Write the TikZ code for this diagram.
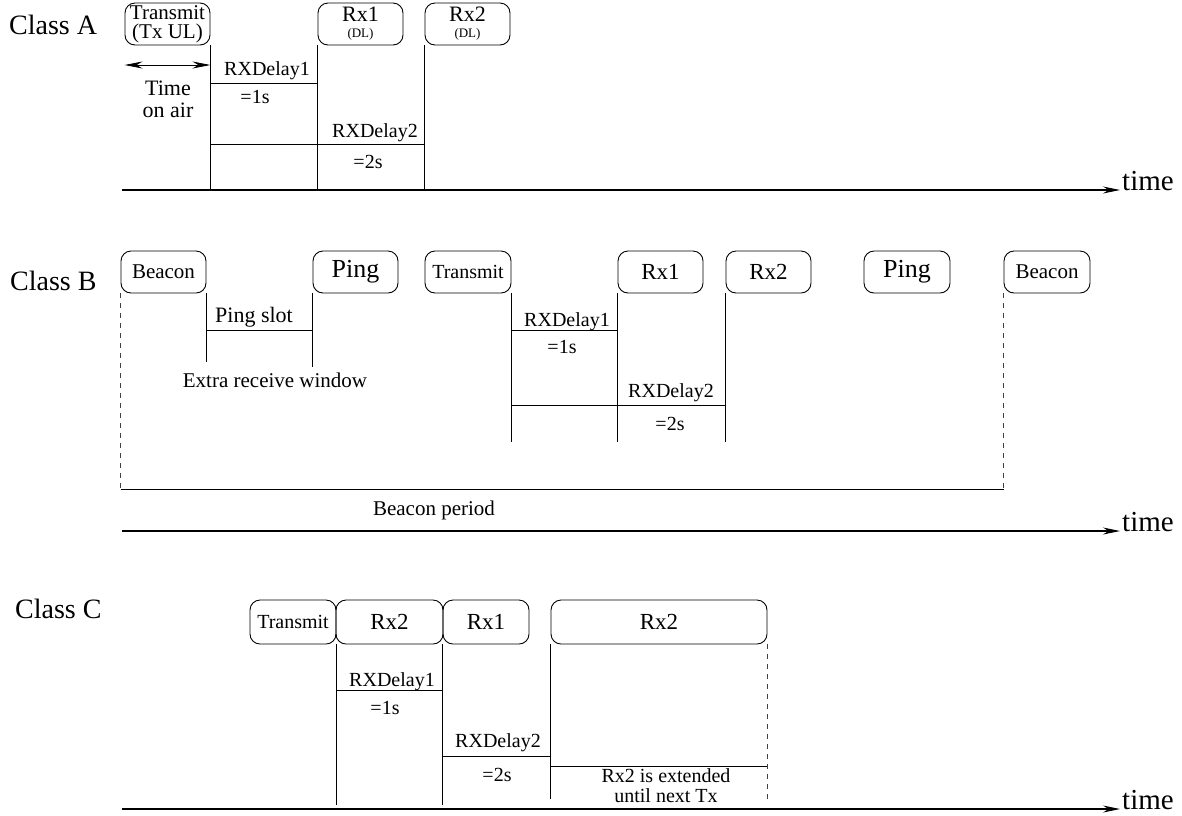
\documentclass[tikz,border=0pt]{standalone}
\usepackage{fontspec}
\setmainfont{Liberation Serif}
\usetikzlibrary{arrows.meta,calc}
\newcommand{\myfs}[1]{\fontsize{#1}{#1}\selectfont}
\begin{document}
\begin{tikzpicture}[x=1pt,y=-1pt,
  box/.style={draw, rounded corners=10pt, inner sep=0pt, minimum height=42pt, line width=0.9pt},
  ln/.style={line width=0.9pt},
  dsh/.style={line width=0.9pt, dash pattern=on 5pt off 5pt, black!75},
  tl/.style={line width=1.1pt, -{Stealth[length=17pt,width=7pt]}},
  lbl/.style={anchor=base, inner sep=0pt, font=\myfs{20}},
  cls/.style={anchor=base west, inner sep=0pt, font=\myfs{28}},
  tm/.style={anchor=base west, inner sep=0pt, font=\myfs{29}},
  dl/.style={inner sep=0pt, align=center, font=\fontsize{22}{12}\selectfont},
]
\useasboundingbox (0,0) rectangle (1182,815);

% ---------------- Class A ----------------
\node[cls] (clA) at (9,34) {Class A};
\node[box, minimum width=85pt] (tA) at (167.5,24) {};
\node[box, minimum width=85pt] (r1A) at (360.5,24) {};
\node[box, minimum width=85pt] (r2A) at (467.5,24) {};
\node[inner sep=0pt, align=center, font=\fontsize{21}{19}\selectfont] (tAt) at (167.5,24) {Transmit\\(Tx UL)};
\node[dl] (r1At) at (360.5,24) {Rx1\\[4pt]{\myfs{13}(DL)}};
\node[dl] (r2At) at (467.5,24) {Rx2\\[4pt]{\myfs{13}(DL)}};
\coordinate (a0) at (122,190);
\coordinate (a1) at (1120,190);
\draw[tl] (a0) -- (a1);
\node[tm] (timeA) at ($(a1)+(2,0)$) {time};
\draw[ln] (tA.south east) -- (tA.south east |- a0);
\draw[ln] (r1A.south west) -- (r1A.south west |- a0);
\draw[ln] (r2A.south west) -- (r2A.south west |- a0);
\draw[line width=0.9pt, {Stealth[length=18pt,width=7pt]}-{Stealth[length=18pt,width=7pt]}]
  (tA.south west |- 0,65) -- (tA.south east |- 0,65);
\node[inner sep=0pt, align=center, font=\fontsize{22}{22}\selectfont] (toa) at (168,99) {Time\\on air};
\draw[ln] (tA.south east |- 0,83) -- (r1A.south west |- 0,83);
\node[lbl] (dA1) at (267,75) {RXDelay1};
\node[lbl] (sA1) at (255,103) {=1s};
\draw[ln] (tA.south east |- 0,144) -- (r2A.south west |- 0,144);
\node[lbl] (dA2) at (375,137) {RXDelay2};
\node[lbl] (sA2) at (368,168) {=2s};

% ---------------- Class B ----------------
\node[cls] (clB) at (10,290) {Class B};
\node[box, minimum width=85pt, font=\myfs{21}] (bB1) at (163.5,272) {Beacon};
\node[box, minimum width=85pt, font=\myfs{26}] (pB1) at (355.5,272) {Ping};
\node[box, minimum width=86pt, font=\myfs{20}] (tB) at (468,272) {Transmit};
\node[box, minimum width=85pt, font=\myfs{23}] (r1B) at (660.5,272) {Rx1};
\node[box, minimum width=85pt, font=\myfs{23}] (r2B) at (768.5,272) {Rx2};
\node[box, minimum width=86pt, font=\myfs{26}] (pB2) at (907,272) {Ping};
\node[box, minimum width=86pt, font=\myfs{21}] (bB2) at (1047,272) {Beacon};
\draw[dsh] (bB1.south west) -- (bB1.south west |- 0,489);
\draw[dsh] (bB2.south west) -- (bB2.south west |- 0,489);
\draw[ln] (bB1.south west |- 0,489) -- (bB2.south west |- 0,489);
\node[lbl, font=\myfs{21}] (bper) at (434,515) {Beacon period};
\draw[ln] (bB1.south east) -- (bB1.south east |- 0,362);
\draw[ln] (pB1.south west) -- (pB1.south west |- 0,367);
\draw[ln] (bB1.south east |- 0,330) -- (pB1.south west |- 0,330);
\node[lbl, font=\myfs{22}] (pslot) at (254,322) {Ping slot};
\node[lbl, font=\myfs{21}] (extra) at (275,387) {Extra receive window};
\draw[ln] (tB.south east) -- (tB.south east |- 0,442);
\draw[ln] (r1B.south west) -- (r1B.south west |- 0,442);
\draw[ln] (r2B.south west) -- (r2B.south west |- 0,442);
\draw[ln] (tB.south east |- 0,330) -- (r1B.south west |- 0,330);
\node[lbl] (dB1) at (567,326) {RXDelay1};
\node[lbl] (sB1) at (562,353) {=1s};
\draw[ln] (tB.south east |- 0,405) -- (r2B.south west |- 0,405);
\node[lbl] (dB2) at (671,397) {RXDelay2};
\node[lbl] (sB2) at (670,430) {=2s};
\coordinate (b0) at (122,531);
\coordinate (b1) at (1120,531);
\draw[tl] (b0) -- (b1);
\node[tm] (timeB) at ($(b1)+(2,0)$) {time};

% ---------------- Class C ----------------
\node[cls] (clC) at (15,618) {Class C};
\node[box, minimum width=86pt, minimum height=44pt, font=\myfs{20}] (tC) at (293,622) {Transmit};
\node[box, minimum width=107pt, minimum height=44pt, font=\myfs{23}] (r2C) at (389.5,622) {Rx2};
\node[box, minimum width=86pt, minimum height=44pt, font=\myfs{23}] (r1C) at (486,622) {Rx1};
\node[box, minimum width=216pt, minimum height=44pt, font=\myfs{23}] (rxC) at (659,622) {Rx2};
\draw[ln] (tC.south east) -- (tC.south east |- 0,805);
\draw[ln] (r1C.south west) -- (r1C.south west |- 0,805);
\draw[ln] (rxC.south west) -- (rxC.south west |- 0,799);
\draw[dsh] (rxC.south east) -- (rxC.south east |- 0,799);
\draw[ln] (tC.south east |- 0,690) -- (r1C.south west |- 0,690);
\node[lbl] (dC1) at (392,686) {RXDelay1};
\node[lbl] (sC1) at (385,714) {=1s};
\draw[ln] (r1C.south west |- 0,756) -- (rxC.south west |- 0,756);
\node[lbl] (dC2) at (498,747) {RXDelay2};
\node[lbl] (sC2) at (497,781) {=2s};
\draw[ln] (rxC.south west |- 0,766) -- (rxC.south east |- 0,766);
\node[inner sep=0pt, align=center, font=\fontsize{20}{20}\selectfont] (ext) at (666,786) {Rx2 is extended\\until next Tx};
\coordinate (c0) at (122,809);
\coordinate (c1) at (1120,809);
\draw[tl] (c0) -- (c1);
\node[tm] (timeC) at ($(c1)+(2,0)$) {time};
\end{tikzpicture}
\end{document}
